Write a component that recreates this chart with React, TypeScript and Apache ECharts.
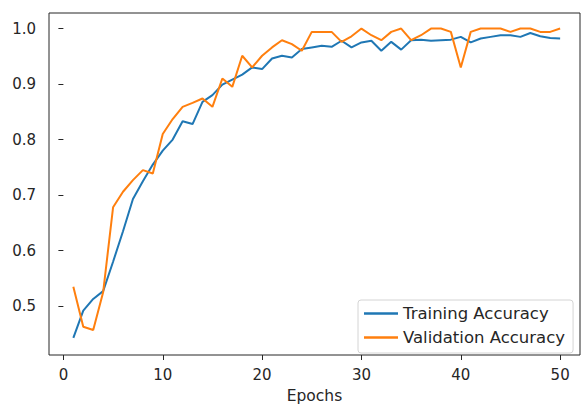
import React, { useEffect, useRef } from "react";
import * as echarts from "echarts";

const epochs: number[] = Array.from({ length: 50 }, (_, i) => i + 1);

const trainAcc: number[] = [
  0.443, 0.492, 0.513, 0.527, 0.58, 0.635, 0.693, 0.725, 0.755, 0.78,
  0.8, 0.833, 0.828, 0.868, 0.88, 0.899, 0.908, 0.917, 0.93, 0.927,
  0.946, 0.951, 0.948, 0.963, 0.966, 0.969, 0.967, 0.978, 0.966, 0.975,
  0.978, 0.96, 0.976, 0.962, 0.979, 0.98, 0.978, 0.979, 0.98, 0.985,
  0.975, 0.982, 0.985, 0.988, 0.988, 0.985, 0.992, 0.986, 0.983, 0.982,
];

const valAcc: number[] = [
  0.535, 0.463, 0.457, 0.525, 0.678, 0.706, 0.727, 0.745, 0.739, 0.81,
  0.837, 0.859, 0.866, 0.874, 0.859, 0.91, 0.895, 0.951, 0.93, 0.951,
  0.966, 0.979, 0.972, 0.96, 0.994, 0.994, 0.994, 0.976, 0.986, 1.0,
  0.988, 0.979, 0.994, 1.0, 0.979, 0.988, 1.0, 1.0, 0.994, 0.93,
  0.994, 1.0, 1.0, 1.0, 0.994, 1.0, 1.0, 0.994, 0.994, 1.0,
];

const xTicks: number[] = [0, 10, 20, 30, 40, 50];
const yTicks: number[] = [0.5, 0.6, 0.7, 0.8, 0.9, 1.0];

const seriesNames = ["Training Accuracy", "Validation Accuracy"];
const colors = ["#1f77b4", "#ff7f0e"];

const FONT = "DejaVu Sans";
const TEXT = "#262626";

export default function App() {
  const ref = useRef<HTMLDivElement>(null);

  useEffect(() => {
    if (!ref.current) return;
    const chart = echarts.init(ref.current, undefined, { renderer: "svg" });
    const mk = (vals: number[]) => epochs.map((e, i) => [e, vals[i]]);
    chart.setOption({
      animation: false,
      backgroundColor: "#ffffff",
      textStyle: { fontFamily: FONT },
      grid: {
        left: 49,
        right: 1,
        top: 13,
        bottom: 49,
        show: true,
        borderColor: "#262626",
        borderWidth: 1,
        containLabel: false,
      },
      xAxis: {
        type: "value",
        min: -1.45,
        max: 52.0,
        name: "Epochs",
        nameLocation: "middle",
        nameGap: 33,
        nameTextStyle: { fontFamily: FONT, fontSize: 15.5, color: TEXT },
        axisLine: { show: false },
        splitLine: { show: false },
        axisTick: {
          show: true,
          length: 5,
          inside: false,
          customValues: xTicks,
          lineStyle: { color: "#262626", width: 1 },
        },
        axisLabel: {
          customValues: xTicks,
          margin: 12,
          fontFamily: FONT,
          fontSize: 15,
          color: TEXT,
          formatter: (v: number) => String(v),
        },
      },
      yAxis: {
        type: "value",
        min: 0.412,
        max: 1.028,
        axisLine: { show: false },
        splitLine: { show: false },
        axisTick: {
          show: true,
          length: 5,
          inside: false,
          customValues: yTicks,
          lineStyle: { color: "#262626", width: 1 },
        },
        axisLabel: {
          customValues: yTicks,
          margin: 13,
          fontFamily: FONT,
          fontSize: 15,
          color: TEXT,
          formatter: (v: number) => v.toFixed(1),
        },
      },
      legend: {
        orient: "vertical",
        left: 358,
        top: 300,
        padding: [5, 8, 7, 6],
        itemGap: 7,
        itemWidth: 34,
        itemHeight: 2.5,
        itemTextGap: 14,
        backgroundColor: "rgba(255,255,255,0.8)",
        borderColor: "#d4d4d4",
        borderWidth: 1,
        borderRadius: 3,
        textStyle: { fontFamily: FONT, fontSize: 16.5, color: TEXT },
        data: seriesNames.map((n, i) => ({
          name: n,
          icon: "rect",
          itemStyle: { color: colors[i] },
        })),
      },
      series: [
        {
          name: seriesNames[0],
          type: "line",
          data: mk(trainAcc),
          showSymbol: false,
          lineStyle: { color: colors[0], width: 2 },
          itemStyle: { color: colors[0] },
        },
        {
          name: seriesNames[1],
          type: "line",
          data: mk(valAcc),
          showSymbol: false,
          lineStyle: { color: colors[1], width: 2 },
          itemStyle: { color: colors[1] },
        },
      ],
    });
    return () => chart.dispose();
  }, []);

  return (
    <div
      ref={ref}
      style={{ position: "fixed", left: 0, top: 0, width: 581, height: 409 }}
    />
  );
}
